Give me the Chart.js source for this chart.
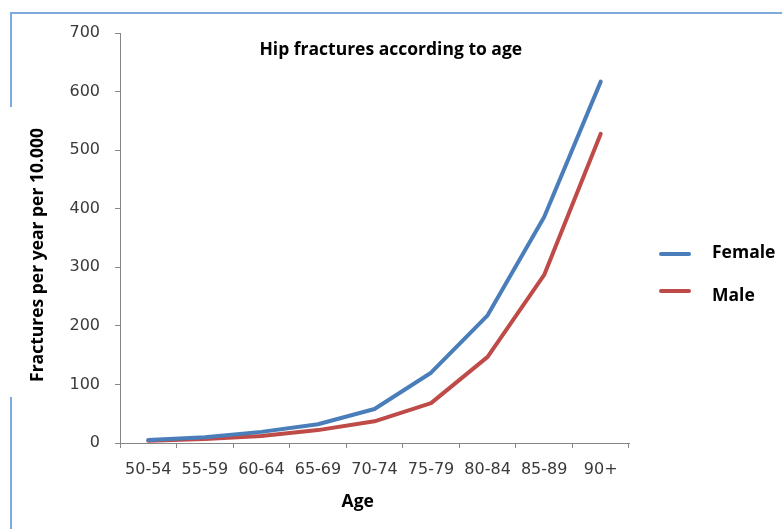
<!DOCTYPE html>
<html><head><meta charset="utf-8">
<script src="https://cdn.jsdelivr.net/npm/chart.js@4"></script>
<style>html,body{margin:0;padding:0;background:#fff}#wrap{width:782px;height:529px}</style>
</head><body><div id="wrap"><canvas id="c" width="782" height="529"></canvas></div>
<script>
const categories = ['50-54','55-59','60-64','65-69','70-74','75-79','80-84','85-89','90+'];
const femaleValues = [5, 10, 19, 32, 58, 120, 218, 386, 617];
const maleValues = [4, 7, 12, 22, 37, 68, 147, 287, 528];
const seriesNames = ['Female', 'Male'];
const seriesColors = ['#4a7ebb', '#be4b48'];
const yTicks = [0, 100, 200, 300, 400, 500, 600, 700];
const chartTitle = 'Hip fractures according to age';
const xTitle = 'Age';
const yTitle = 'Fractures per year per 10.000';

const boldFont = 'bold 17.5px "Open Sans", Lato, sans-serif';

const decor = {
  id: 'decor',
  beforeDraw(chart) {
    const ctx = chart.ctx;
    ctx.save();
    ctx.strokeStyle = '#7ea9dd';
    ctx.lineWidth = 2;
    ctx.beginPath();
    ctx.moveTo(11, chart.height);
    ctx.lineTo(11, 397);
    ctx.moveTo(11, 107);
    ctx.lineTo(11, 13);
    ctx.lineTo(chart.width, 13);
    ctx.stroke();
    ctx.restore();
  },
  afterDraw(chart) {
    const ctx = chart.ctx;
    const a = chart.chartArea;
    ctx.save();
    ctx.fillStyle = '#000';
    ctx.font = boldFont;
    ctx.textAlign = 'center';
    ctx.textBaseline = 'middle';
    // chart title
    ctx.fillText(chartTitle, a.left + (a.right - a.left) * 0.532, a.top + 17);
    // x title
    ctx.fillText(xTitle, a.left + (a.right - a.left) * 0.467, a.bottom + 59);
    // y title
    ctx.save();
    ctx.translate(38, a.top + 222);
    ctx.rotate(-Math.PI / 2);
    ctx.fillText(yTitle, 0, 0);
    ctx.restore();
    // legend
    chart.data.datasets.forEach((ds, i) => {
      const ly = 254 + i * 37;
      ctx.strokeStyle = ds.borderColor;
      ctx.lineWidth = 4;
      ctx.lineCap = 'round';
      ctx.beginPath();
      ctx.moveTo(a.right + 32, ly);
      ctx.lineTo(a.right + 60, ly);
      ctx.stroke();
      ctx.textAlign = 'left';
      ctx.fillText(ds.label, a.right + 83, 253 + i * 43);
    });
    ctx.restore();
  }
};

new Chart(document.getElementById('c'), {
  type: 'line',
  data: {
    labels: categories,
    datasets: [
      { label: seriesNames[0], data: femaleValues, borderColor: seriesColors[0], backgroundColor: seriesColors[0] },
      { label: seriesNames[1], data: maleValues, borderColor: seriesColors[1], backgroundColor: seriesColors[1] }
    ]
  },
  options: {
    responsive: false,
    animation: false,
    layout: { padding: { top: 33, left: 10, right: 153, bottom: 0 } },
    elements: {
      line: { borderWidth: 4, tension: 0, borderCapStyle: 'round', borderJoinStyle: 'round' },
      point: { radius: 0, hoverRadius: 0 }
    },
    plugins: { legend: { display: false }, title: { display: false }, tooltip: { enabled: false } },
    scales: {
      x: {
        type: 'category',
        offset: true,
        grid: { display: true, offset: true, drawOnChartArea: false, drawTicks: true, tickLength: 5, color: '#868686' },
        border: { display: true, color: '#868686', width: 1 },
        ticks: { color: '#3a3a3a', font: { family: '"DejaVu Sans"', size: 16 }, padding: 12, maxRotation: 0, autoSkip: false },
        afterFit(s) { s.height = 86; }
      },
      y: {
        min: 0, max: 700,
        grid: { display: true, drawOnChartArea: false, drawTicks: true, tickLength: 5, color: '#868686' },
        border: { display: true, color: '#868686', width: 1 },
        ticks: { color: '#3a3a3a', font: { family: '"DejaVu Sans"', size: 16 }, padding: 15, stepSize: 100 },
        afterBuildTicks(s) { s.ticks = yTicks.map(v => ({ value: v })); },
        afterFit(s) { s.width = 110; }
      }
    }
  },
  plugins: [decor]
});
</script>
</body></html>
